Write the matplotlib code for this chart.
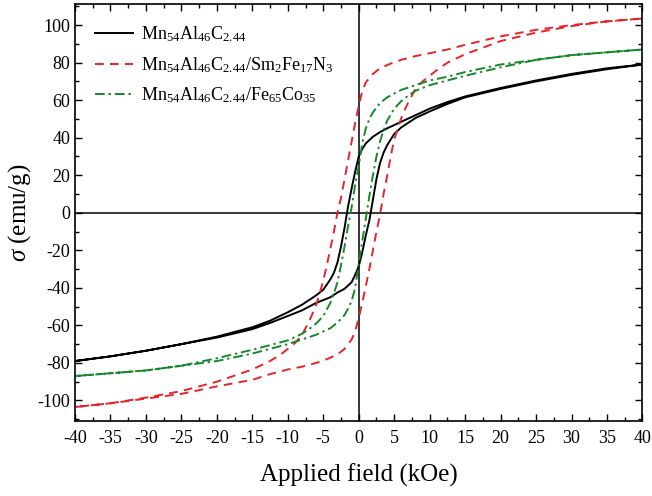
import numpy as np
import matplotlib
matplotlib.use("Agg")
import matplotlib.pyplot as plt
from matplotlib.ticker import MultipleLocator

# Mn54Al46C2.44 (black) - descending branch then ascending branch
h_mnal_down = [40, 35, 30, 25, 20, 15, 12.5, 10, 8, 6, 4, 3, 2, 1, 0.5, 0,
               -0.5, -1, -1.5, -2, -2.5, -3, -3.5, -4, -5, -6, -7, -8, -10,
               -12.5, -15, -20, -25, -30, -35, -40]
m_mnal_down = [79, 77, 74, 70.5, 66.5, 62, 59, 55.5, 52, 48.5, 45, 43, 40.5, 37, 34, 30,
               22, 13, 3.5, -8, -18, -26.5, -32, -35.5, -41, -44, -46.5, -49, -53,
               -57.5, -61, -66, -70, -73.5, -76.5, -79]
h_mnal_up = [-40, -35, -30, -25, -20, -15, -12.5, -10, -8, -6, -4, -3, -2, -1, -0.5, 0,
             0.5, 1, 1.5, 2, 2.5, 3, 3.5, 4, 5, 6, 7, 8, 10,
             12.5, 15, 20, 25, 30, 35, 40]
m_mnal_up = [-79, -76.5, -73.5, -70, -66.5, -62, -58.7, -55, -52, -48, -45, -42.5, -40.5, -37, -33, -28.5,
             -21, -12, -4, 7, 18, 26.5, 32, 36, 42, 45.5, 48, 50.5, 54,
             58, 61.5, 66, 70, 73.5, 76.5, 79]

# Mn54Al46C2.44/Sm2Fe17N3 (red)
h_sm_down = [40, 35, 30, 25, 20, 15, 12.5, 10, 8, 6, 4.5, 3, 2, 1, 0.5, 0,
             -0.5, -1, -1.5, -2, -2.5, -3, -3.5, -4, -4.5, -5, -5.5, -6, -6.5, -7,
             -8, -9, -10, -11, -12.5, -15, -20, -25, -30, -35, -40]
m_sm_down = [103.5, 102, 100, 97.5, 94, 89.5, 87, 85, 83.5, 81.5, 79.5, 77, 74, 69.5, 65, 57,
             48, 38, 28, 18, 8, 0, -10, -19, -28, -36, -43, -49, -53.5, -58,
             -65, -69.5, -72.5, -75.5, -79, -83.5, -90, -95, -98.5, -101.5, -103.5]
h_sm_up = [-40, -35, -30, -25, -20, -15, -12.5, -10, -8, -6, -4.5, -3, -2, -1, -0.5, 0,
           0.5, 1, 1.5, 2, 2.5, 3, 3.5, 4, 4.5, 5, 5.5, 6, 6.5, 7,
           8, 9, 10, 11, 12.5, 15, 20, 25, 30, 35, 40]
m_sm_up = [-103.5, -101.5, -99, -96.5, -92.5, -89, -86, -83.5, -82, -80, -78, -75.5, -72.5, -67.5, -63, -56,
           -48, -39, -30, -20, -10, -1, 10, 19.5, 30, 39, 45, 50.5, 55, 59,
           66, 70, 73, 76, 80, 84.5, 91.5, 96, 99.5, 102, 103.5]

# Mn54Al46C2.44/Fe65Co35 (green)
h_fc_down = [40, 35, 30, 25, 20, 15, 12.5, 10, 8, 6, 4, 3, 2, 1.5, 1, 0.5, 0,
             -0.5, -1, -1.5, -2, -2.5, -3, -3.5, -4, -5, -6, -7, -8, -10,
             -12.5, -15, -20, -25, -30, -35, -40]
m_fc_down = [87, 85.5, 84, 81.5, 79, 75, 72.5, 70.5, 68, 65.5, 61.5, 58.5, 53.5, 50, 45, 37, 25,
             15, 3, -7, -18, -28, -37, -43, -48, -55, -59, -62, -64.5, -68,
             -70.5, -73, -77.5, -81.5, -84, -85.5, -87]
h_fc_up = [-40, -35, -30, -25, -20, -15, -12.5, -10, -8, -6, -4, -3, -2, -1.5, -1, -0.5, 0,
           0.5, 1, 1.5, 2, 2.5, 3, 3.5, 4, 5, 6, 7, 8, 10,
           12.5, 15, 20, 25, 30, 35, 40]
m_fc_up = [-87, -85.5, -84, -81.5, -79, -75, -72.5, -70, -67.5, -65, -61.5, -58.5, -54.5, -51, -47, -40, -27,
           -15, -3, 9, 20, 30, 38, 44, 49, 55.5, 59.5, 62.5, 65, 68,
           70.5, 73, 77.5, 81.5, 84, 85.5, 87]

labels = [r"Mn$_{54}$Al$_{46}$C$_{2.44}$",
          r"Mn$_{54}$Al$_{46}$C$_{2.44}$/Sm$_{2}$Fe$_{17}$N$_{3}$",
          r"Mn$_{54}$Al$_{46}$C$_{2.44}$/Fe$_{65}$Co$_{35}$"]

plt.rcParams['font.family'] = ['Liberation Serif', 'DejaVu Serif']
plt.rcParams['mathtext.fontset'] = 'custom'
plt.rcParams['mathtext.rm'] = 'Liberation Serif'
plt.rcParams['mathtext.it'] = 'Liberation Serif:italic'
plt.rcParams['axes.unicode_minus'] = False

fig = plt.figure(figsize=(6.52, 4.96), dpi=100)
ax = fig.add_axes([0.115, 0.151, 0.8704, 0.840])

red = '#e8242a'
green = '#16882a'

# loops: join both branches into one closed path per sample
ax.plot(h_mnal_down + h_mnal_up, m_mnal_down + m_mnal_up, color='black', lw=1.4,
        label=labels[0])
ax.plot(h_sm_down + h_sm_up, m_sm_down + m_sm_up, color=red, lw=1.4,
        dashes=(4.5, 3.2), label=labels[1])
ax.plot(h_fc_down + h_fc_up, m_fc_down + m_fc_up, color=green, lw=1.4,
        dashes=(5, 2, 1.2, 2), label=labels[2])

ax.axhline(0, color='black', lw=1.1, zorder=1)
ax.axvline(0, color='black', lw=1.1, zorder=1)

ax.set_xlim(-40, 40)
ax.set_ylim(-111, 111)
ax.xaxis.set_major_locator(MultipleLocator(5))
ax.xaxis.set_minor_locator(MultipleLocator(2.5))
ax.yaxis.set_major_locator(MultipleLocator(20))
ax.yaxis.set_minor_locator(MultipleLocator(10))
ax.tick_params(which='both', direction='in', top=True, right=True, labelsize=13,
               width=1.0)
ax.tick_params(axis='x', which='major', pad=6.5)
ax.tick_params(which='major', length=5)
ax.tick_params(which='minor', length=3)
for sp in ax.spines.values():
    sp.set_linewidth(1.2)

ax.set_xlabel("Applied field (kOe)", fontsize=18, labelpad=12)
ax.set_ylabel(r"$\it{\sigma}$ (emu/g)", fontsize=18, labelpad=3)

ax.legend(loc='upper left', bbox_to_anchor=(0.0, 1.0), frameon=False, fontsize=13,
          handlelength=2.1, handletextpad=0.45, labelspacing=0.6,
          borderaxespad=0.7)

fig.savefig("out.png", dpi=100)
